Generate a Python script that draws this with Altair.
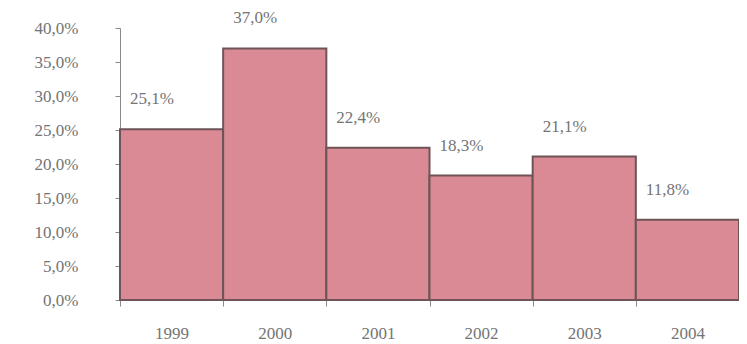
import altair as alt
import pandas as pd

years = ["1999", "2000", "2001", "2002", "2003", "2004"]
values = [25.1, 37.0, 22.4, 18.3, 21.1, 11.8]
labels = ["25,1%", "37,0%", "22,4%", "18,3%", "21,1%", "11,8%"]
y_ticks = [0, 5, 10, 15, 20, 25, 30, 35, 40]

df = pd.DataFrame({"year": years, "value": values, "label": labels})

FONT = "Liberation Serif, Times New Roman, serif"
TXT = "#747474"

x_axis = alt.Axis(
    title=None,
    labelAngle=0,
    labelFont=FONT,
    labelFontSize=17,
    labelColor=TXT,
    labelPadding=19,
    tickBand="extent",
    tickSize=6,
    tickColor="#8a8a8a",
    domainColor="#8a8a8a",
    domainWidth=1,
    labelBaseline="top",
)
x_scale = alt.Scale(paddingInner=0, paddingOuter=0)

y_axis = alt.Axis(
    title=None,
    values=y_ticks,
    labelExpr="replace(format(datum.value, '.1f'), '.', ',') + '%'",
    labelFont=FONT,
    labelFontSize=17,
    labelColor=TXT,
    labelPadding=37,
    labelOverlap=False,
    labelBound=False,
    tickSize=5,
    tickColor="#8a8a8a",
    domainColor="#8a8a8a",
    grid=False,
)
y_scale = alt.Scale(domain=[0, 40], nice=False)

bars = alt.Chart(df).mark_bar(
    color="#d98a94", stroke="#6e5457", strokeWidth=2
).encode(
    x=alt.X("year:N", sort=years, scale=x_scale, axis=x_axis),
    y=alt.Y("value:Q", scale=y_scale, axis=y_axis),
)

text = alt.Chart(df).mark_text(
    align="left", baseline="middle", dx=10, dy=-30,
    font=FONT, fontSize=17, color=TXT
).encode(
    x=alt.X("year:N", sort=years, bandPosition=0, scale=x_scale, axis=x_axis),
    y=alt.Y("value:Q", scale=y_scale, axis=y_axis),
    text="label:N",
)

chart = (
    alt.layer(bars, text)
    .properties(
        width=619,
        height=272,
        autosize=alt.AutoSizeParams(type="none"),
        padding={"left": 112, "top": 20, "right": 0, "bottom": 44},
        background="white",
    )
    .configure_view(stroke=None)
)

chart.save("out.html", embed_options={"renderer": "svg", "actions": False})
